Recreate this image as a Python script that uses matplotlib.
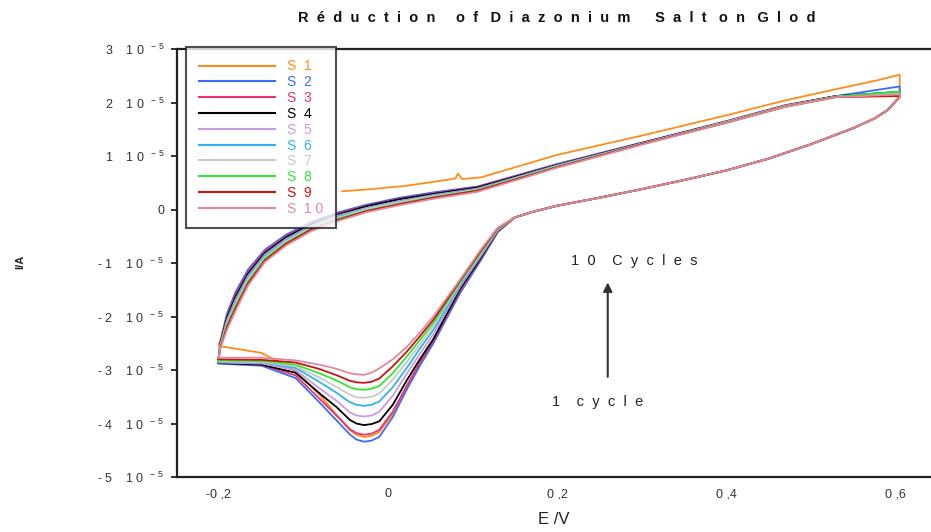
import matplotlib
matplotlib.use("Agg")
import matplotlib.pyplot as plt

plt.rcParams['font.family'] = ['Liberation Sans', 'DejaVu Sans']
plt.rcParams['mathtext.fontset'] = 'custom'
plt.rcParams['mathtext.rm'] = 'Liberation Sans'

# ---------------- data (current in units of 1e-5 A, potential in V) ----------------
series_names = ["S  1", "S  2", "S  3", "S  4", "S  5", "S  6", "S  7", "S  8", "S  9", "S  1 0"]
series_colors = ["#ff8c1a", "#3a6cff", "#e8336b", "#000000", "#c99be3",
                 "#2fb4ea", "#c8c8c8", "#33e633", "#cc1111", "#e0899c"]

# anodic (return) scan grid, -0.2 V -> 0.6 V
E_anod = [-0.2, -0.198, -0.19, -0.18, -0.165, -0.145, -0.12, -0.09, -0.06, -0.025,
          0.014, 0.054, 0.106, 0.2, 0.3, 0.4, 0.47, 0.53, 0.605]
s2_anod = [-2.87, -2.5, -1.95, -1.55, -1.12, -0.75, -0.47, -0.23, -0.06, 0.09, 0.22, 0.32, 0.43, 0.85, 1.25, 1.65, 1.95, 2.12, 2.3]
s3_anod = [-2.85, -2.52, -2.0, -1.6, -1.17, -0.78, -0.5, -0.26, -0.08, 0.07, 0.2, 0.3, 0.42, 0.84, 1.24, 1.65, 1.95, 2.12, 2.12]
s4_anod = [-2.85, -2.52, -2.03, -1.64, -1.2, -0.81, -0.52, -0.27, -0.1, 0.06, 0.19, 0.29, 0.41, 0.83, 1.24, 1.64, 1.94, 2.12, 2.2]
s5_anod = [-2.83, -2.54, -2.07, -1.69, -1.24, -0.84, -0.55, -0.3, -0.12, 0.03, 0.16, 0.27, 0.39, 0.82, 1.23, 1.64, 1.94, 2.11, 2.18]
s6_anod = [-2.82, -2.55, -2.1, -1.72, -1.27, -0.86, -0.57, -0.31, -0.14, 0.02, 0.15, 0.26, 0.38, 0.82, 1.23, 1.63, 1.93, 2.11, 2.2]
s7_anod = [-2.81, -2.56, -2.13, -1.76, -1.3, -0.89, -0.59, -0.33, -0.16, 0.01, 0.14, 0.25, 0.37, 0.81, 1.23, 1.63, 1.93, 2.11, 2.18]
s8_anod = [-2.8, -2.58, -2.17, -1.81, -1.35, -0.92, -0.62, -0.36, -0.18, -0.02, 0.11, 0.23, 0.36, 0.8, 1.22, 1.63, 1.93, 2.11, 2.2]
s9_anod = [-2.79, -2.59, -2.2, -1.85, -1.38, -0.95, -0.64, -0.37, -0.2, -0.03, 0.1, 0.22, 0.35, 0.79, 1.22, 1.62, 1.92, 2.1, 2.12]
s10_anod = [-2.77, -2.6, -2.25, -1.9, -1.42, -0.98, -0.67, -0.4, -0.22, -0.05, 0.08, 0.2, 0.33, 0.78, 1.21, 1.62, 1.92, 2.1, 2.15]

# first cycle: starts at -0.054 V going anodic
E_s1_start = [-0.054, -0.02, 0.02, 0.06, 0.08, 0.083, 0.088, 0.11, 0.2, 0.3, 0.4, 0.47, 0.53, 0.58, 0.605]
s1_start = [0.34, 0.38, 0.44, 0.53, 0.58, 0.67, 0.57, 0.6, 1.02, 1.38, 1.76, 2.04, 2.25, 2.42, 2.52]
E_s1_end = [-0.2, -0.198, -0.19, -0.18, -0.165, -0.145, -0.12, -0.09, -0.06]
s1_end = [-2.55, -2.45, -1.97, -1.57, -1.14, -0.76, -0.48, -0.24, -0.07]

# cathodic scan grid, 0.6 V -> -0.2 V
E_cath_hi = [0.605, 0.59, 0.575, 0.55, 0.5, 0.45, 0.4, 0.35, 0.3, 0.25, 0.2, 0.17, 0.15]
cath_hi = [2.1, 1.85, 1.7, 1.52, 1.22, 0.95, 0.73, 0.55, 0.38, 0.22, 0.07, -0.05, -0.15]
E_cath_lo = [0.13, 0.11, 0.086, 0.054, 0.038, 0.023, 0.006, -0.01, -0.019, -0.028, -0.037, -0.045,
             -0.06, -0.081, -0.109, -0.149, -0.2]
s1_cath = [-0.42, -0.93, -1.52, -2.47, -2.88, -3.3, -3.82, -4.16, -4.23, -4.25, -4.21, -4.12, -3.85, -3.45, -3.02, -2.68, -2.55]
s2_cath = [-0.42, -0.95, -1.55, -2.5, -2.92, -3.35, -3.88, -4.25, -4.32, -4.34, -4.3, -4.2, -3.95, -3.6, -3.15, -2.92, -2.88]
s3_cath = [-0.41, -0.92, -1.5, -2.45, -2.86, -3.28, -3.78, -4.12, -4.19, -4.21, -4.18, -4.1, -3.86, -3.53, -3.1, -2.9, -2.87]
s4_cath = [-0.4, -0.9, -1.47, -2.42, -2.8, -3.18, -3.65, -3.96, -4.01, -4.03, -4.0, -3.93, -3.7, -3.43, -3.05, -2.9, -2.87]
s5_cath = [-0.39, -0.87, -1.43, -2.33, -2.7, -3.06, -3.48, -3.78, -3.85, -3.87, -3.85, -3.79, -3.58, -3.34, -3.0, -2.88, -2.86]
s6_cath = [-0.38, -0.85, -1.4, -2.25, -2.6, -2.95, -3.32, -3.59, -3.65, -3.67, -3.65, -3.6, -3.43, -3.22, -2.96, -2.86, -2.85]
s7_cath = [-0.37, -0.83, -1.37, -2.18, -2.52, -2.84, -3.18, -3.44, -3.5, -3.52, -3.51, -3.46, -3.32, -3.14, -2.93, -2.85, -2.84]
s8_cath = [-0.36, -0.8, -1.35, -2.12, -2.44, -2.74, -3.06, -3.3, -3.35, -3.37, -3.36, -3.32, -3.2, -3.06, -2.9, -2.83, -2.82]
s9_cath = [-0.35, -0.78, -1.32, -2.06, -2.37, -2.65, -2.93, -3.16, -3.22, -3.24, -3.23, -3.2, -3.1, -2.98, -2.86, -2.81, -2.8]
s10_cath = [-0.34, -0.75, -1.3, -2.0, -2.3, -2.56, -2.8, -2.97, -3.05, -3.09, -3.08, -3.06, -2.98, -2.9, -2.82, -2.77, -2.77]

y_ticks = [3, 2, 1, 0, -1, -2, -3, -4, -5]
y_tick_labels = [r"3    1 0  $^{\mathregular{-\ 5}}$", r"2    1 0  $^{\mathregular{-\ 5}}$", r"1    1 0  $^{\mathregular{-\ 5}}$", "0",
                 r"- 1    1 0  $^{\mathregular{-\ 5}}$", r"- 2    1 0  $^{\mathregular{-\ 5}}$", r"- 3    1 0  $^{\mathregular{-\ 5}}$",
                 r"- 4    1 0  $^{\mathregular{-\ 5}}$", r"- 5    1 0  $^{\mathregular{-\ 5}}$"]
x_ticks = [-0.2, 0.0, 0.2, 0.4, 0.6]
x_tick_labels = ["-0 ,2", "0", "0 ,2", "0 ,4", "0 ,6"]

anod_lists = [None, s2_anod, s3_anod, s4_anod, s5_anod, s6_anod, s7_anod, s8_anod, s9_anod, s10_anod]
cath_lists = [s1_cath, s2_cath, s3_cath, s4_cath, s5_cath, s6_cath, s7_cath, s8_cath, s9_cath, s10_cath]

# ---------------- figure ----------------
fig = plt.figure(figsize=(9.31, 5.32), dpi=100)
ax = fig.add_axes([177 / 931, 1 - 477 / 532, (931 - 177) / 931, (477 - 49) / 532])

lw = 1.3
handles = []
for i, name in enumerate(series_names):
    c = series_colors[i]
    if i == 0:
        E = E_s1_start + [0.605] + E_cath_hi[1:] + E_cath_lo + E_s1_end[1:]
        I = s1_start + [2.12] + cath_hi[1:] + s1_cath + s1_end[1:]
    else:
        E = E_anod + E_cath_hi + E_cath_lo
        I = anod_lists[i] + cath_hi + cath_lists[i]
    h, = ax.plot(E, I, color=c, lw=lw, label=name, solid_joinstyle='round')
    handles.append(h)

ax.set_xlim(-0.249, 0.642)
ax.set_ylim(-5, 3)

ax.set_yticks(y_ticks)
ax.set_yticklabels(y_tick_labels, fontsize=9, color='#333333')
ax.set_xticks(x_ticks)
ax.set_xticklabels(x_tick_labels, fontsize=9, color='#333333')
ax.tick_params(axis='y', direction='out', length=4, width=1.3, pad=5, color='#222222')
ax.tick_params(axis='x', length=0, pad=8)

for s in ['left', 'bottom', 'top']:
    ax.spines[s].set_linewidth(1.6)
    ax.spines[s].set_color('#222222')
ax.spines['right'].set_visible(False)

leg = ax.legend(handles=handles, loc='upper left',
                bbox_to_anchor=((186 - 177) / 754, (477 - 47) / 428),
                borderaxespad=0, fontsize=10, handlelength=5.5, handletextpad=0.9,
                labelspacing=0.13, frameon=True, fancybox=False,
                borderpad=0.9, labelcolor='linecolor')
leg.get_frame().set_edgecolor('#222222')
leg.get_frame().set_linewidth(1.5)
for lh in leg.get_lines():
    lh.set_linewidth(1.5)

# arrow + annotations
ax.annotate('', xy=(0.26, -1.31), xytext=(0.26, -3.18),
            arrowprops=dict(arrowstyle='-|>', color='#333333', lw=1.5, mutation_scale=13))
ax.text(0.291, -0.97, "1  0    C  y  c  l  e  s", fontsize=10.5, ha='center', va='center', color='#222222')
ax.text(0.248, -3.6, "1    c  y  c  l  e", fontsize=10.5, ha='center', va='center', color='#222222')

fig.text(557 / 931, 1 - 18 / 532,
         "R  é  d  u  c  t  i  o  n     o  f   D  i  a  z  o  n  i  u  m      S  a  l  t   o  n   G  l  o  d",
         fontsize=10.5, fontweight='bold', ha='center', va='center', color='#111111')
fig.text(554 / 931, 1 - 520 / 532, "E /V", fontsize=12, ha='center', va='center', color='#222222')
fig.text(20 / 931, 1 - 262 / 532, "I/A", fontsize=8, fontweight='bold', rotation=90,
         ha='center', va='center', color='#222222')

fig.savefig("out.png", dpi=100)
